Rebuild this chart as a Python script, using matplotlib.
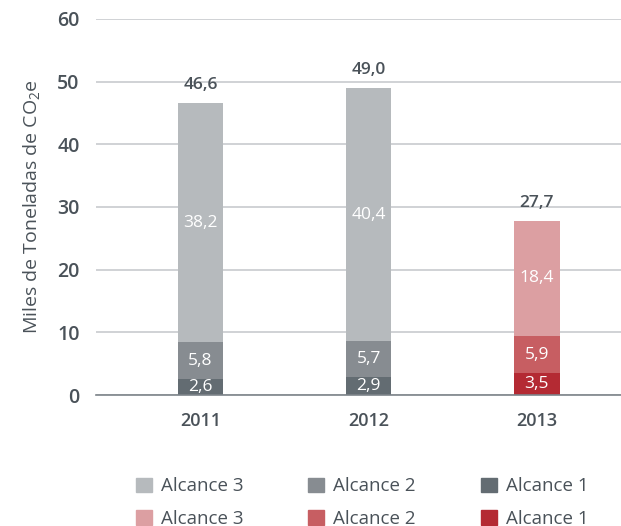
import matplotlib
matplotlib.use("Agg")
import matplotlib.pyplot as plt
from matplotlib.patches import Patch
import numpy as np

plt.rcParams['font.family'] = ['Open Sans', 'DejaVu Sans']
plt.rcParams['mathtext.fontset'] = 'custom'
plt.rcParams['mathtext.rm'] = 'Open Sans'

anios = ["2011", "2012", "2013"]
alcance1 = [2.6, 2.9, 3.5]
alcance2 = [5.8, 5.7, 5.9]
alcance3 = [38.2, 40.4, 18.4]
totales = ["46,6", "49,0", "27,7"]
etiquetas = ["Alcance 3", "Alcance 2", "Alcance 1"]

grises = ["#636c72", "#878c91", "#b6babd"]
rojos = ["#b42a33", "#c75e62", "#dc9fa2"]
texto = "#4a5259"

fig = plt.figure(figsize=(6.21, 5.26), dpi=100)
ax = fig.add_axes([0.155, 0.249, 0.845, 0.715])

x = np.arange(len(anios))
ancho = 0.27
colores = [grises, grises, rojos]
abajo = np.zeros(len(anios))
for i, serie in enumerate([alcance1, alcance2, alcance3]):
    cols = [c[i] for c in colores]
    ax.bar(x, serie, width=ancho, bottom=abajo, color=cols, zorder=3)
    for xi, b, v in zip(x, abajo, serie):
        ax.text(xi, b + v / 2, f"{v:.1f}".replace(".", ","), ha="center", va="center",
                color="white", fontsize=12.5, zorder=4)
    abajo = abajo + np.array(serie)

for xi, tot, t in zip(x, abajo, totales):
    ax.text(xi, tot + 1.6, t, ha="center", va="bottom", color=texto, fontsize=12.5,
            fontweight="semibold")

ax.set_ylim(0, 60)
ax.set_xlim(-0.62, 2.5)
ax.set_yticks(range(0, 61, 10))
ax.set_xticks(x)
ax.set_xticklabels(anios, fontsize=13, color=texto, fontweight="semibold")
ax.tick_params(axis="y", labelsize=14, colors=texto, length=0, pad=12)
for lb in ax.get_yticklabels():
    lb.set_fontweight("semibold")
ax.tick_params(axis="x", length=0, pad=12)
ax.grid(axis="y", color="#c8cbce", linewidth=1.2, zorder=0)
for s in ["top", "right", "left"]:
    ax.spines[s].set_visible(False)
ax.spines["bottom"].set_color("#7d848a")
ax.spines["bottom"].set_linewidth(1.2)
ax.spines["bottom"].set_zorder(5)

ax.set_ylabel("Miles de Toneladas de CO$_2$e", fontsize=14, color=texto, labelpad=10)

handles = []
for g, r, lab in zip(grises[::-1], rojos[::-1], etiquetas):
    handles.append(Patch(color=g, label=lab))
    handles.append(Patch(color=r, label=lab))
fig.legend(handles=handles, ncol=3, loc="lower center", bbox_to_anchor=(0.583, -0.035),
           frameon=False, fontsize=13.5, labelcolor=texto, handlelength=0.85,
           handleheight=0.85, handletextpad=0.5, columnspacing=3.45, labelspacing=0.75)

fig.savefig("out.png", dpi=100)
